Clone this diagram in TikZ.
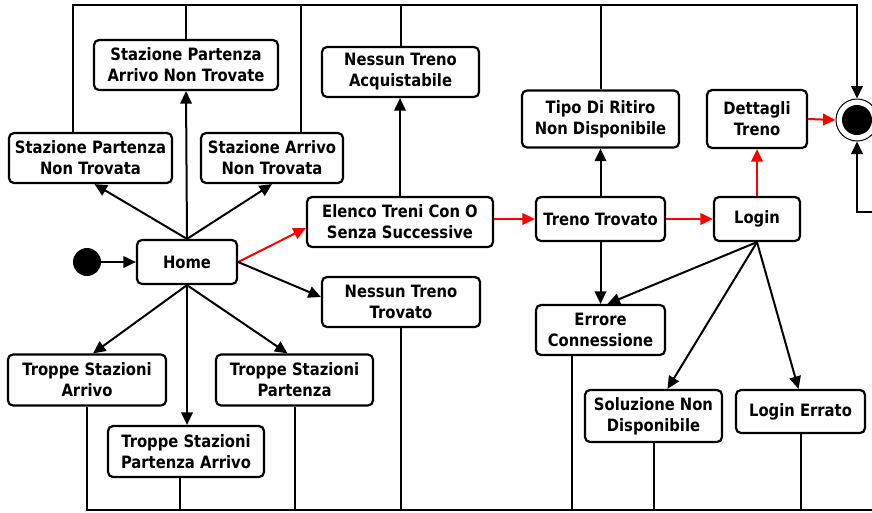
\documentclass[tikz,border=0pt]{standalone}
\usepackage{fontspec}
\setmainfont{DejaVu Sans}[FakeStretch=0.87]
\usetikzlibrary{arrows.meta,calc}

\begin{document}
\begin{tikzpicture}[x=1pt,y=-1pt,
  state/.style={draw,line width=2.2pt,rounded corners=5pt,align=center,
    inner sep=0pt,font=\bfseries\fontsize{17}{21}\selectfont},
  sz/.style 2 args={minimum width=#1,minimum height=#2},
  link/.style={line width=2pt},
  arr/.style={link,-{Triangle[length=12.5pt,width=11.5pt]}},
  redarr/.style={arr,red}]
\useasboundingbox (0,0) rectangle (872,512);

% states
\node[state,sz={184}{50}] (spant) at (186,65)    {Stazione Partenza\\Arrivo Non Trovate};
\node[state,sz={163}{50}] (spnt)  at (90.5,158)  {Stazione Partenza\\Non Trovata};
\node[state,sz={142}{50}] (sant)  at (272,158)   {Stazione Arrivo\\Non Trovata};
\node[state,sz={157}{50}] (nta)   at (400.5,72)  {Nessun Treno\\Acquistabile};
\node[state,sz={157}{57}] (tdr)   at (600.5,119) {Tipo Di Ritiro\\Non Disponibile};
\node[state,sz={100}{58}] (dt)    at (757,119)   {Dettagli\\Treno};
\node[state,sz={186}{50}] (el)    at (400,222)   {Elenco Treni Con O\\Senza Successive};
\node[state,sz={129}{44}] (tt)    at (600.5,219) {Treno Trovato};
\node[state,sz={86}{44}]  (login) at (757,219)   {Login};
\node[state,sz={100}{44}] (home)  at (187,262)   {Home};
\node[state,sz={158}{50}] (ntt)   at (401,302)   {Nessun Treno\\Trovato};
\node[state,sz={129}{50}] (ec)    at (600.5,330) {Errore\\Connessione};
\node[state,sz={158}{51}] (tsa)   at (87,380)    {Troppe Stazioni\\Arrivo};
\node[state,sz={157}{51}] (tsp)   at (294.5,380) {Troppe Stazioni\\Partenza};
\node[state,sz={156}{51}] (tspa)  at (186,451.5) {Troppe Stazioni\\Partenza Arrivo};
\node[state,sz={137}{52}] (snd)   at (653.5,416) {Soluzione Non\\Disponibile};
\node[state,sz={129}{43}] (le)    at (800.5,411.5) {Login Errato};

% initial and final pseudo-states
\node[circle,fill=black,minimum size=28pt,inner sep=0pt] (init) at (87,262) {};
\node[circle,draw,line width=1pt,minimum size=42pt,inner sep=0pt] (fin) at (857,120) {};
\fill (fin.center) circle (15);

% frame points
\coordinate (tl) at (73,5);
\coordinate (t3) at (301,5);
\coordinate (tr) at (857,5);
\coordinate (bl) at (87,510);
\coordinate (b2) at (180,510);
\coordinate (b6) at (572,510);
\coordinate (br) at (876,510);
\coordinate (rc) at (876,212);

% transitions from Home
\draw[arr] (init) -- (home.west);
\draw[arr] (home.north) -- (spant.south);
\draw[arr] (home.north) -- ($(spnt.south)+(4,0)$);
\draw[arr] (home.north) -- (sant.south);
\draw[arr] (home.south) -- ($(tsa.north)+(6,0)$);
\draw[arr] (home.south) -- (home.south |- tspa.north);
\draw[arr] (home.south) -- ($(tsp.north)+(-7,0)$);
\draw[redarr] (home.east) -- ($(el.west)+(0,6)$);
\draw[arr] (home.east) -- ($(ntt.west)+(0,-5)$);

% main path
\draw[arr] (el.north) -- (el.north |- nta.south);
\draw[redarr] (tt.west -| el.east) -- (tt.west);
\draw[redarr] (tt.east) -- (login.west);
\draw[arr] (tt.north) -- (tdr.south);
\draw[arr] (tt.south) -- (ec.north);
\draw[redarr] (login.north) -- (dt.south);
\draw[redarr] (dt.east) -- (fin.west);
\draw[arr] (login.south) -- ($(ec.north)+(7,0)$);
\draw[arr] (login.south) -- ($(snd.north)+(14,0)$);
\draw[arr] (login.south) -- ($(le.north)+(-2,0)$);

% top return line
\draw[arr] (spnt.north -| tl) -- (tl) -- (tr) -- (fin.north);
\draw[link] (spant.north) -- (spant.north |- tl);
\draw[link] (sant.north -| t3) -- (t3);
\draw[link] (nta.north) -- (nta.north |- tl);
\draw[link] (tdr.north) -- (tdr.north |- tl);

% bottom return line
\draw[arr] (tsa.south) -- (bl) -- (br) -- (rc) -| (fin.south);
\draw[link] (tspa.south -| b2) -- (b2);
\draw[link] (tsp.south) -- (tsp.south |- bl);
\draw[link] (ntt.south) -- (ntt.south |- bl);
\draw[link] (ec.south -| b6) -- (b6);
\draw[link] (snd.south) -- (snd.south |- bl);
\draw[link] (le.south) -- (le.south |- bl);
\end{tikzpicture}
\end{document}
